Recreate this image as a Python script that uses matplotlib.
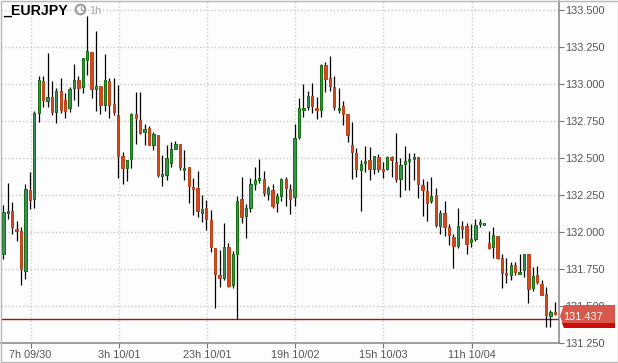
import matplotlib
matplotlib.use("Agg")
import matplotlib.pyplot as plt
from matplotlib.patches import Circle, Polygon, Rectangle

plt.rcParams["font.family"] = ["Liberation Sans", "DejaVu Sans"]

# candles, 1h EURJPY
opens = [131.851, 132.128, 132.142, 132.020, 132.007, 131.736, 132.284, 132.223, 132.804, 133.020,
         132.885, 132.912, 132.811, 132.953, 132.892, 132.838, 132.973, 133.027, 132.980, 133.162,
         133.217, 132.966, 132.987, 132.858, 133.020, 132.865, 132.791, 132.514, 132.432, 132.493,
         132.797, 132.757, 132.676, 132.703, 132.588, 132.656, 132.379, 132.385, 132.467, 132.561,
         132.595, 132.419, 132.440, 132.304, 132.298, 132.128, 132.162, 132.081, 131.892, 131.710,
         131.690, 131.899, 131.642, 131.851, 132.223, 132.108, 132.162, 132.324, 132.351, 132.358,
         132.257, 132.284, 132.196, 132.243, 132.358, 132.291, 132.237, 132.642, 132.824, 132.845,
         132.919, 132.838, 132.824, 133.129, 133.041, 132.980, 132.824, 132.852, 132.797, 132.588,
         132.534, 132.419, 132.467, 132.486, 132.426, 132.507, 132.426, 132.426, 132.507, 132.473,
         132.358, 132.460, 132.480, 132.493, 132.507, 132.318, 132.277, 132.209, 132.250, 132.041,
         132.128, 132.034, 131.967, 131.906, 132.041, 132.041, 131.932, 131.953, 132.054, 132.047,
         131.926, 131.899, 131.973, 131.824, 131.723, 131.710, 131.777, 131.716, 131.743, 131.851,
         131.622, 131.710, 131.649, 131.581, 131.433, 131.460]
highs = [132.182, 132.331, 132.203, 132.074, 132.034, 132.324, 132.405, 132.818, 133.054, 133.054,
         133.210, 133.020, 132.973, 133.041, 132.939, 132.980, 133.135, 133.054, 133.176, 133.460,
         133.217, 133.358, 132.987, 133.203, 133.041, 133.041, 132.993, 132.541, 132.486, 132.804,
         132.946, 132.946, 132.730, 132.717, 132.676, 132.656, 132.521, 132.588, 132.608, 132.615,
         132.595, 132.554, 132.440, 132.365, 132.412, 132.250, 132.216, 132.149, 131.892, 131.878,
         132.061, 131.926, 131.872, 132.243, 132.372, 132.189, 132.365, 132.440, 132.493, 132.412,
         132.311, 132.324, 132.264, 132.365, 132.372, 132.324, 132.730, 132.906, 133.000, 132.953,
         133.007, 132.912, 133.135, 133.149, 133.190, 133.054, 132.973, 132.885, 132.797, 132.743,
         132.568, 132.486, 132.581, 132.575, 132.514, 132.527, 132.473, 132.514, 132.514, 132.669,
         132.500, 132.581, 132.534, 132.534, 132.507, 132.358, 132.345, 132.372, 132.298, 132.149,
         132.209, 132.054, 131.987, 132.162, 132.075, 132.061, 132.054, 132.088, 132.088, 132.061,
         132.007, 132.034, 131.973, 131.851, 131.824, 131.797, 131.797, 131.851, 131.851, 131.851,
         131.764, 131.770, 131.676, 131.629, 131.473, 131.527]
lows = [131.817, 132.088, 131.987, 131.939, 131.642, 131.683, 132.155, 132.162, 132.743, 132.845,
        132.845, 132.791, 132.737, 132.804, 132.770, 132.811, 132.892, 132.852, 132.939, 133.061,
        132.906, 132.818, 132.797, 132.818, 132.770, 132.791, 132.365, 132.324, 132.345, 132.432,
        132.595, 132.662, 132.588, 132.588, 132.554, 132.372, 132.311, 132.351, 132.440, 132.561,
        132.419, 132.351, 132.196, 132.115, 132.102, 132.068, 132.014, 131.865, 131.487, 131.629,
        131.676, 131.629, 131.622, 131.412, 132.061, 131.960, 132.135, 132.284, 132.331, 132.243,
        132.216, 132.162, 132.135, 132.209, 132.176, 132.122, 132.176, 132.629, 132.777, 132.824,
        132.804, 132.764, 132.777, 132.946, 132.953, 132.824, 132.804, 132.723, 132.608, 132.358,
        132.372, 132.142, 132.405, 132.351, 132.392, 132.405, 132.365, 132.419, 132.372, 132.338,
        132.237, 132.284, 132.284, 132.351, 132.230, 132.108, 132.075, 132.196, 132.034, 131.987,
        131.973, 131.912, 131.757, 131.892, 131.960, 131.851, 131.899, 131.939, 132.034, 132.047,
        131.885, 131.824, 131.817, 131.622, 131.656, 131.676, 131.710, 131.716, 131.696, 131.520,
        131.602, 131.649, 131.575, 131.358, 131.358, 131.439]
closes = [132.135, 132.142, 132.034, 132.007, 131.750, 132.291, 132.216, 132.804, 133.027, 132.892,
          132.912, 132.811, 132.953, 132.824, 132.818, 132.966, 133.027, 132.973, 133.176, 133.223,
          132.966, 132.987, 132.858, 133.027, 132.858, 132.811, 132.514, 132.432, 132.486, 132.797,
          132.770, 132.669, 132.696, 132.588, 132.662, 132.385, 132.392, 132.500, 132.561, 132.595,
          132.440, 132.432, 132.311, 132.291, 132.142, 132.155, 132.088, 131.899, 131.716, 131.690,
          131.899, 131.635, 131.851, 132.209, 132.102, 132.162, 132.324, 132.351, 132.365, 132.264,
          132.298, 132.176, 132.243, 132.358, 132.298, 132.223, 132.635, 132.838, 132.838, 132.919,
          132.852, 132.824, 133.129, 133.034, 132.987, 132.845, 132.838, 132.797, 132.656, 132.541,
          132.426, 132.460, 132.480, 132.426, 132.514, 132.426, 132.412, 132.507, 132.486, 132.358,
          132.453, 132.480, 132.493, 132.507, 132.324, 132.284, 132.196, 132.243, 132.047, 132.128,
          132.034, 131.980, 131.906, 132.041, 132.020, 131.919, 131.953, 132.047, 132.068, 132.061,
          131.892, 131.980, 131.824, 131.723, 131.710, 131.777, 131.730, 131.730, 131.851, 131.615,
          131.703, 131.662, 131.575, 131.439, 131.460, 131.446]

price_ticks = [133.5, 133.25, 133.0, 132.75, 132.5, 132.25, 132.0, 131.75, 131.5, 131.25]
time_pos = [6, 26, 46, 66, 86, 106]
time_labels = ["7h 09/30", "3h 10/01", "23h 10/01", "19h 10/02", "15h 10/03", "11h 10/04"]
last_price = 131.437
line_price = 131.41

fig = plt.figure(figsize=(6.18, 3.63), dpi=100, facecolor="#fdfdfd")
W, H = 618.0, 363.0

# main chart area, pixel box
ax = fig.add_axes([1 / W, 1 - 343.3 / H, 557.7 / W, 342.3 / H], facecolor="#fdfdfd")
ax.set_xlim(-0.544, 125.87)
ax.set_ylim(131.248, 133.562)

ax.grid(True, axis="y", color="#c8c8c8", linestyle=(0, (1, 1.6)), linewidth=1.0, zorder=1)
ax.grid(True, axis="x", color="#c5d5c5", linestyle=(0, (1, 1.6)), linewidth=1.0, zorder=1)

ax.axhline(line_price, color="#a80f0f", linewidth=1.0, zorder=2)

for i in range(len(opens)):
    up = closes[i] >= opens[i]
    ax.vlines(i, lows[i], highs[i], color="black", linewidth=0.9, zorder=3)
    ax.bar(i, abs(closes[i] - opens[i]), bottom=min(opens[i], closes[i]), width=0.52,
           color="#3a9058" if up else "#d2491f",
           edgecolor="#0a6a0a" if up else "#bb3c12",
           linewidth=0.65, zorder=4)

ax.yaxis.tick_right()
ax.set_yticks(price_ticks)
ax.set_yticklabels(["%.3f" % p for p in price_ticks])
ax.set_xticks([p + 0.15 for p in time_pos])
ax.set_xticklabels(time_labels)
ax.tick_params(axis="y", length=3.5, width=0.8, color="#777777", labelcolor="#555555", labelsize=7.8, pad=1.5)
ax.tick_params(axis="x", length=3.5, width=0.8, color="#777777", labelcolor="#555555", labelsize=7.8, pad=1.2)

for name in ["top", "left"]:
    ax.spines[name].set_visible(False)
for name in ["right", "bottom"]:
    ax.spines[name].set_color("#858585")
    ax.spines[name].set_linewidth(1.1)

# overlay in pixels for the title, frame and price flag
ov = fig.add_axes([0, 0, 1, 1], facecolor="none")
ov.set_xlim(0, W)
ov.set_ylim(H, 0)
ov.axis("off")

ov.add_patch(Rectangle((0.5, 0.5), W - 1, H - 1.5, fill=False, edgecolor="#b8b8b8", linewidth=1.0))

ov.text(3, 15, "_EURJPY", fontsize=10.2, fontweight="bold", color="black", ha="left", va="baseline")
ov.add_patch(Circle((80.5, 9.5), 4.8, fill=False, edgecolor="#9a9a9a", linewidth=1.5))
ov.plot([80.5, 80.5, 83.5], [6.5, 9.5, 9.5], color="#9a9a9a", linewidth=0.8)
ov.text(89, 14, "1h", fontsize=7.8, color="#a8a8a8", ha="left", va="baseline")

ov.add_patch(Polygon([(560, 316), (564, 305), (615, 305), (615, 328), (564, 328)],
                     closed=True, facecolor="#d9584c", edgecolor="none"))
ov.add_patch(Polygon([(562, 323), (615, 323), (615, 328), (564, 328)],
                     closed=True, facecolor="#cc0a0a", edgecolor="none"))
ov.text(563.5, 319.5, "%.3f" % last_price, fontsize=7.9, color="white", ha="left", va="baseline")

fig.savefig("out.png", dpi=100, facecolor=fig.get_facecolor())
